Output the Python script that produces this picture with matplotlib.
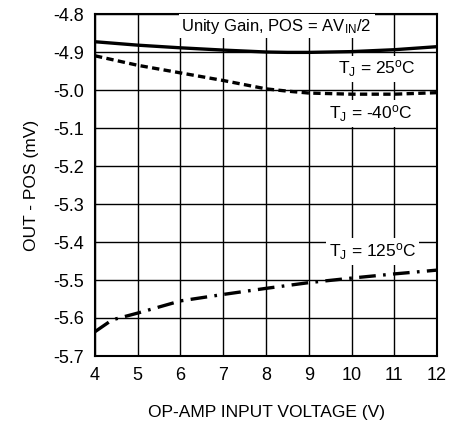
import numpy as np
import matplotlib
matplotlib.use('Agg')
import matplotlib.pyplot as plt

plt.rcParams['font.family'] = ['Liberation Sans', 'DejaVu Sans']
plt.rcParams['mathtext.fontset'] = 'custom'
plt.rcParams['mathtext.rm'] = 'Liberation Sans'
plt.rcParams['mathtext.it'] = 'Liberation Sans'

# data
vin = [4, 5, 6, 7, 8, 8.5, 9, 10, 11, 12]
t25 = [-4.873, -4.882, -4.889, -4.895, -4.900, -4.901, -4.901, -4.899, -4.894, -4.886]
tm40 = [-4.910, -4.935, -4.955, -4.975, -4.997, -5.003, -5.008, -5.011, -5.011, -5.007]
vin125 = [4, 4.4, 5, 6, 7, 8, 9, 10, 11, 12]
t125 = [-5.636, -5.605, -5.587, -5.555, -5.538, -5.522, -5.507, -5.495, -5.484, -5.474]

xticks = [4, 5, 6, 7, 8, 9, 10, 11, 12]
yticks = [-4.8, -4.9, -5.0, -5.1, -5.2, -5.3, -5.4, -5.5, -5.6, -5.7]

fig = plt.figure(figsize=(4.53, 4.24), dpi=100)
ax = fig.add_axes([95/453, 1-356/424, 342/453, 342/424])

ax.plot(vin, t25, color='black', lw=2.4, solid_capstyle='butt')
ax.plot(vin, tm40, color='black', lw=2.4, dashes=(2.2, 1.3))
ax.plot(vin125, t125, color='black', lw=2.4, dashes=(5, 2.2, 0.8, 2.2))

ax.set_xlim(4, 12)
ax.set_ylim(-5.7, -4.8)
ax.set_xticks(xticks)
ax.set_yticks(yticks)
ax.set_yticklabels(['%.1f' % v for v in yticks])
ax.grid(True, color='black', lw=1.0)
ax.set_axisbelow(True)
for s in ax.spines.values():
    s.set_linewidth(1.5)
ax.tick_params(length=0, labelsize=13, pad=8)

box = dict(facecolor='white', edgecolor='none', pad=2)
ax.text(8.25, -4.832, r'Unity Gain, POS = AV$_{\mathrm{IN}}$/2', fontsize=12,
        ha='center', va='center', bbox=box)
ax.text(10.6, -4.944, r'T$_{\mathrm{J}}$ = 25$^{\mathrm{o}}$C', fontsize=12.5,
        ha='center', va='center', bbox=box)
ax.text(10.45, -5.062, r'T$_{\mathrm{J}}$ = -40$^{\mathrm{o}}$C', fontsize=12.5,
        ha='center', va='center', bbox=box)
ax.text(10.5, -5.425, r'T$_{\mathrm{J}}$ = 125$^{\mathrm{o}}$C', fontsize=12.5,
        ha='center', va='center', bbox=box)

ax.set_ylabel('OUT - POS (mV)', fontsize=12.5, labelpad=10)
ax.set_xlabel('OP-AMP INPUT VOLTAGE (V)', fontsize=12.5, labelpad=15)

fig.savefig('out.png', dpi=100)
